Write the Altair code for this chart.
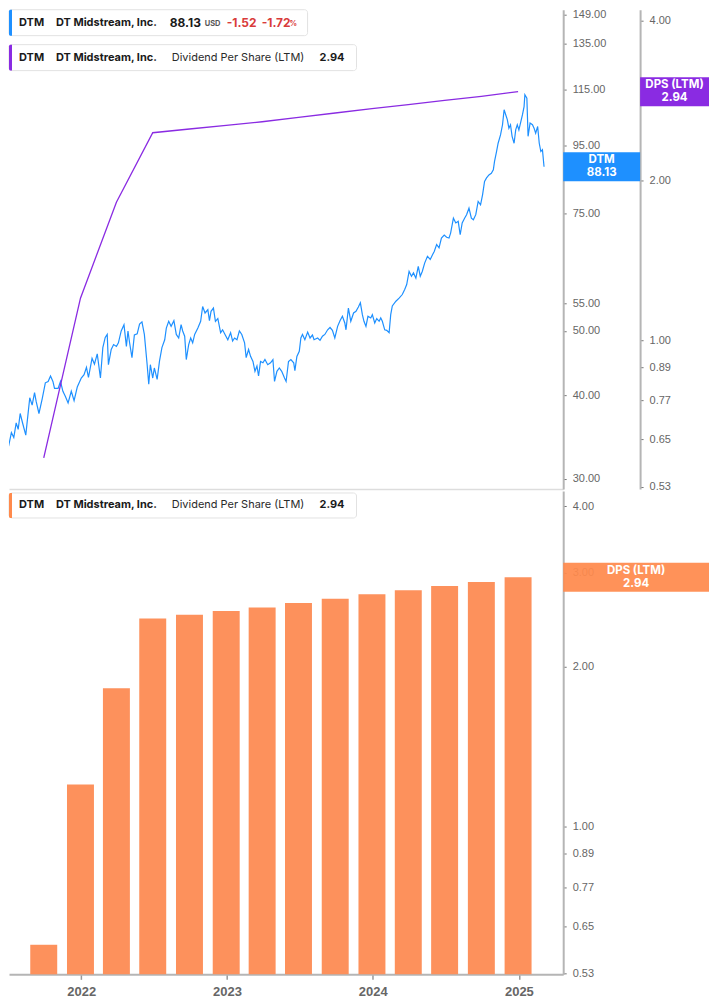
import altair as alt
import pandas as pd

# ---------------- data ----------------
price_dates = [
    "2021-06-15", "2021-06-19", "2021-06-25", "2021-06-29", "2021-07-03", "2021-07-10", "2021-07-16",
    "2021-07-22", "2021-07-27", "2021-08-01", "2021-08-08", "2021-08-15", "2021-08-25", "2021-08-31",
    "2021-09-06", "2021-09-10", "2021-09-17", "2021-09-25", "2021-10-03", "2021-10-10", "2021-10-16",
    "2021-10-22", "2021-10-26", "2021-11-04", "2021-11-10", "2021-11-16", "2021-11-22", "2021-11-29",
    "2021-12-07", "2021-12-14", "2021-12-22", "2022-01-01", "2022-01-08", "2022-01-14", "2022-01-19",
    "2022-01-28", "2022-02-03", "2022-02-10", "2022-02-18", "2022-02-24", "2022-03-02", "2022-03-07",
    "2022-03-10", "2022-03-17", "2022-03-23", "2022-03-30", "2022-04-04", "2022-04-11", "2022-04-18",
    "2022-04-24", "2022-04-28", "2022-05-02", "2022-05-08", "2022-05-14", "2022-05-21", "2022-05-27",
    "2022-06-02", "2022-06-08", "2022-06-15", "2022-06-19", "2022-06-23", "2022-06-29", "2022-07-03",
    "2022-07-10", "2022-07-16", "2022-07-22", "2022-07-29", "2022-08-02", "2022-08-08", "2022-08-14",
    "2022-08-21", "2022-08-27", "2022-09-02", "2022-09-08", "2022-09-12", "2022-09-17", "2022-09-21",
    "2022-09-27", "2022-10-02", "2022-10-07", "2022-10-12", "2022-10-20", "2022-10-27", "2022-11-01",
    "2022-11-07", "2022-11-14", "2022-11-18", "2022-11-22", "2022-11-28", "2022-12-03", "2022-12-09",
    "2022-12-16", "2022-12-21", "2022-12-27", "2023-01-03", "2023-01-10", "2023-01-15", "2023-01-20",
    "2023-01-26", "2023-02-01", "2023-02-07", "2023-02-14", "2023-02-18", "2023-02-24", "2023-03-01",
    "2023-03-07", "2023-03-12", "2023-03-17", "2023-03-21", "2023-03-26", "2023-04-01", "2023-04-06",
    "2023-04-13", "2023-04-20", "2023-04-26", "2023-04-30", "2023-05-06", "2023-05-12", "2023-05-18",
    "2023-05-25", "2023-05-29", "2023-06-04", "2023-06-10", "2023-06-17", "2023-06-20", "2023-06-25",
    "2023-07-01", "2023-07-05", "2023-07-09", "2023-07-15", "2023-07-22", "2023-07-28", "2023-08-03",
    "2023-08-07", "2023-08-16", "2023-08-22", "2023-08-28", "2023-09-03", "2023-09-10", "2023-09-16",
    "2023-09-22", "2023-09-28", "2023-10-05", "2023-10-11", "2023-10-17", "2023-10-23", "2023-10-26",
    "2023-11-01", "2023-11-07", "2023-11-14", "2023-11-20", "2023-11-26", "2023-12-01", "2023-12-06",
    "2023-12-10", "2023-12-15", "2023-12-20", "2023-12-27", "2023-12-31", "2024-01-06", "2024-01-11",
    "2024-01-17", "2024-01-21", "2024-01-25", "2024-01-31", "2024-02-05", "2024-02-11", "2024-02-15",
    "2024-02-19", "2024-02-28", "2024-03-07", "2024-03-15", "2024-03-21", "2024-03-26", "2024-04-01",
    "2024-04-07", "2024-04-12", "2024-04-18", "2024-04-24", "2024-04-29", "2024-05-04", "2024-05-10",
    "2024-05-17", "2024-05-24", "2024-05-30", "2024-06-03", "2024-06-09", "2024-06-15", "2024-06-21",
    "2024-06-28", "2024-07-04", "2024-07-10", "2024-07-14", "2024-07-21", "2024-07-27", "2024-08-02",
    "2024-08-07", "2024-08-12", "2024-08-18", "2024-08-23", "2024-08-29", "2024-09-04", "2024-09-09",
    "2024-09-15", "2024-09-21", "2024-09-27", "2024-10-02", "2024-10-07", "2024-10-12", "2024-10-18",
    "2024-10-24", "2024-10-29", "2024-11-01", "2024-11-06", "2024-11-10", "2024-11-16", "2024-11-21",
    "2024-11-25", "2024-11-29", "2024-12-03", "2024-12-07", "2024-12-11", "2024-12-15", "2024-12-20",
    "2024-12-24", "2024-12-28", "2025-01-01", "2025-01-05", "2025-01-10", "2025-01-14", "2025-01-16",
    "2025-01-21", "2025-01-24", "2025-01-29", "2025-02-04", "2025-02-08", "2025-02-12", "2025-02-17",
    "2025-02-21", "2025-02-25", "2025-03-01", "2025-03-05",
]
price_values = [
    35.4, 35.2, 32.6, 36.8, 33.6, 35.2, 34.6,
    36.4, 35.6, 37.6, 36.2, 34.9, 39.7, 38.7,
    40.4, 39.2, 37.6, 39.5, 41.8, 42.0, 42.8,
    42.0, 41.0, 41.0, 42.0, 40.6, 39.9, 39.0,
    40.6, 39.3, 41.2, 42.5, 43.0, 44.1, 42.6,
    45.5, 44.6, 46.2, 42.5, 47.2, 48.9, 49.4,
    44.5, 46.9, 47.7, 47.4, 48.0, 50.0, 51.1,
    47.4, 50.0, 48.0, 45.6, 49.3, 49.5, 51.2,
    51.6, 49.4, 44.5, 41.6, 44.5, 42.5, 44.0,
    42.3, 45.1, 47.2, 48.5, 50.5, 51.7, 50.8,
    51.8, 49.4, 48.8, 51.1, 50.0, 49.1, 45.3,
    47.7, 48.8, 48.0, 49.4, 50.5, 51.7, 54.4,
    53.2, 53.8, 51.8, 53.5, 54.1, 51.7, 52.2,
    49.7, 50.2, 49.4, 48.5, 49.7, 48.3, 48.8,
    48.5, 50.0, 49.4, 48.0, 45.6, 46.9, 45.8,
    45.0, 43.5, 44.3, 42.8, 45.0, 44.8, 45.3,
    44.5, 44.8, 45.3, 42.0, 43.5, 44.0, 43.5,
    42.5, 42.0, 45.0, 45.3, 44.8, 43.6, 45.8,
    46.6, 48.8, 49.4, 48.5, 49.8, 48.8, 49.3,
    48.5, 48.8, 48.4, 49.1, 49.4, 50.2, 50.6,
    50.1, 48.8, 50.8, 51.8, 52.6, 51.4, 50.2,
    54.1, 51.7, 53.2, 53.5, 54.3, 55.1, 52.9,
    51.7, 50.8, 52.6, 52.3, 52.9, 51.4, 52.2,
    51.7, 52.3, 51.7, 50.2, 50.1, 49.7, 52.9,
    54.5, 55.4, 56.0, 56.7, 57.7, 58.7, 61.4,
    60.4, 61.1, 60.0, 62.5, 60.4, 61.4, 63.2,
    64.7, 64.0, 65.1, 65.8, 67.4, 66.6, 68.9,
    69.6, 69.1, 68.9, 70.1, 73.8, 72.6, 73.0,
    69.7, 72.6, 73.8, 74.7, 76.4, 73.8, 73.4,
    74.7, 78.2, 77.3, 80.0, 83.8, 84.8, 85.7,
    86.2, 87.2, 89.8, 92.9, 95.6, 98.4, 101.9,
    107.3, 105.5, 103.7, 100.7, 101.9, 97.9, 95.6,
    100.1, 101.9, 100.1, 102.5, 105.5, 108.5, 113.0,
    111.7, 97.9, 102.5, 101.9, 100.7, 99.0, 101.3,
    95.6, 92.9, 93.5, 88.13,
]

dps_dates = [
    "2021-09-29", "2021-12-30", "2022-03-30", "2022-06-29", "2022-09-29", "2022-12-30", "2023-03-30",
    "2023-06-29", "2023-09-29", "2023-12-30", "2024-03-30", "2024-06-29", "2024-09-29", "2024-12-30",
]
dps_values = [0.60, 1.20, 1.82, 2.46, 2.50, 2.54, 2.58, 2.63, 2.68, 2.73, 2.78, 2.83, 2.88, 2.94]

price_ticks = [30, 40, 50, 55, 75, 95, 115, 135, 149]
dps_ticks_top = [0.53, 0.65, 0.77, 0.89, 1.0, 2.0, 4.0]
dps_ticks_bottom = [0.53, 0.65, 0.77, 0.89, 1.0, 2.0, 3.0, 4.0]
year_ticks = [2022, 2023, 2024, 2025]

ticker = "DTM"
company = "DT Midstream, Inc."
metric = "Dividend Per Share (LTM)"
last_price = 88.13
price_change = "-1.52"
pct_change = "-1.72"
last_dps = 2.94

# ---------------- layout / style ----------------
W = 555
H_TOP = 480
H_BOT = 484
BLUE = "#1E90FF"
PURPLE = "#8A2BE2"
ORANGE_BAR = "#FD915C"
ORANGE_BOX = "#FF8A4C"
AXIS_GREY = "#b5b5b5"
LABEL_GREY = "#666666"
TEXT_FONT = "Inter"
AXIS_FONT = "Liberation Sans"

price_df = pd.DataFrame({"date": price_dates, "price": price_values})
dps_df = pd.DataFrame({"date": dps_dates, "dps": dps_values})

x_scale = alt.Scale(
    type="utc", padding=0,
    domain=[alt.DateTime(year=2021, month=7, date=4, utc=True),
            alt.DateTime(year=2025, month=4, date=22, utc=True)],
)
price_scale = alt.Scale(type="log", domain=[28.97, 151.6], nice=False, padding=0)
dps_scale_top = alt.Scale(type="log", domain=[0.5244, 4.195], nice=False, padding=0)
dps_scale_bot = alt.Scale(type="log", domain=[0.528, 4.268], nice=False, padding=0)


def y_axis(values, offset=0):
    return alt.Axis(
        orient="right", values=values, format=".2f", title=None, grid=False, offset=offset,
        domainColor=AXIS_GREY, domainWidth=2, tickColor="#777", tickSize=3, tickWidth=1,
        labelColor=LABEL_GREY, labelFontSize=11, labelFont=AXIS_FONT, labelPadding=6,
    )


price_axis = y_axis(price_ticks)
dps_axis_top = y_axis(dps_ticks_top, offset=77)
dps_axis_bot = y_axis(dps_ticks_bottom)

top_x_axis = alt.Axis(labels=False, ticks=False, title=None, grid=False,
                      domainColor="#dddddd", domainWidth=1.5)
bot_x_axis = alt.Axis(
    values=[alt.DateTime(year=y, month=1, date=1, utc=True) for y in year_ticks],
    format="%Y", title=None, grid=False,
    domainColor=AXIS_GREY, domainWidth=2, tickColor="#999", tickSize=5, tickWidth=1.5,
    labelColor=LABEL_GREY, labelFontSize=13, labelFont=AXIS_FONT, labelFontWeight="bold",
    labelPadding=6,
)


def one_row():
    return pd.DataFrame({"k": [0]})


def box(x0, x1, y0, y1, fill="white", stroke="#e2e2e2", radius=3):
    return alt.Chart(one_row()).mark_rect(
        fill=fill, stroke=stroke, strokeWidth=1, cornerRadius=radius
    ).encode(x=alt.value(x0), x2=alt.value(x1), y=alt.value(y0), y2=alt.value(y1))


def side_bar(y0, y1, color):
    return alt.Chart(one_row()).mark_rect(
        fill=color, cornerRadiusTopLeft=3, cornerRadiusBottomLeft=3
    ).encode(x=alt.value(0), x2=alt.value(3), y=alt.value(y0), y2=alt.value(y1))


def label(txt, x, y, size=11, weight="bold", color="#1a1a1a"):
    return alt.Chart(one_row()).mark_text(
        align="left", baseline="middle", font=TEXT_FONT, fontSize=size,
        fontWeight=weight, color=color, text=txt
    ).encode(x=alt.value(x), y=alt.value(y))


def legend_rows(y0, y1, color, value_txt):
    yc = (y0 + y1) / 2
    return [
        box(0, 348, y0, y1), side_bar(y0, y1, color),
        label(ticker, 10, yc), label(company, 47, yc),
        label(metric, 163, yc, weight="normal", color="#2a2a2a"),
        label(value_txt, 311, yc),
    ]


def badge(df, scale, axis, xc, width, color, opacity=1.0):
    rect = alt.Chart(df).mark_tick(
        orient="horizontal", thickness=29, size=width, color=color, opacity=opacity
    ).encode(x=alt.value(xc), y=alt.Y("v:Q", scale=scale, axis=axis))
    txt = alt.Chart(df).mark_text(
        color="white", font=TEXT_FONT, fontWeight="bold", fontSize=11.5, lineBreak="\n",
        lineHeight=13, align="center", baseline="middle", dy=-6.5
    ).encode(x=alt.value(xc), y=alt.Y("v:Q", scale=scale, axis=axis), text="t:N")
    return [rect, txt]


# ---------------- top panel ----------------
price_line = alt.Chart(price_df).mark_line(color=BLUE, strokeWidth=1.2, clip=True).encode(
    x=alt.X("date:T", scale=x_scale, axis=top_x_axis),
    y=alt.Y("price:Q", scale=price_scale, axis=price_axis),
)
badge_df = pd.DataFrame({"v": [last_price], "t": [f"{ticker}\n{last_price:.2f}"]})
price_group = alt.layer(price_line, *badge(badge_df, price_scale, price_axis, 593.5, 77, BLUE))

dps_line = alt.Chart(dps_df).mark_line(color=PURPLE, strokeWidth=1.3).encode(
    x=alt.X("date:T", scale=x_scale, axis=top_x_axis),
    y=alt.Y("dps:Q", scale=dps_scale_top, axis=dps_axis_top),
)
dps_badge_df = pd.DataFrame({"v": [last_dps], "t": [f"DPS (LTM)\n{last_dps:.2f}"]})
dps_group = alt.layer(dps_line, *badge(dps_badge_df, dps_scale_top, dps_axis_top, 666.5, 69, PURPLE))

legend1 = [
    box(0, 299, 0, 26), side_bar(0, 26, BLUE),
    label(ticker, 10, 13), label(company, 47, 13),
    label(f"{last_price:.2f}", 161, 13, size=12),
    label("USD", 196, 14.5, size=7.5, color="#555"),
    label(price_change, 218, 13, size=12, color="#D93B3B"),
    label(pct_change, 253, 13, size=12, color="#D93B3B"),
    label("%", 281, 14.5, size=7.5, color="#D93B3B"),
]
legend2 = legend_rows(35, 61, PURPLE, f"{last_dps:.2f}")

top = alt.layer(price_group, dps_group, *legend1, *legend2).resolve_scale(
    y="independent"
).properties(width=W, height=H_TOP)

# ---------------- bottom panel ----------------
bars = alt.Chart(dps_df).mark_bar(size=27, color=ORANGE_BAR).encode(
    x=alt.X("date:T", scale=x_scale, axis=bot_x_axis),
    y=alt.Y("dps:Q", scale=dps_scale_bot, axis=dps_axis_bot),
    y2=alt.datum(0.528),
)
bot_badge_df = pd.DataFrame({"v": [last_dps], "t": [f"DPS (LTM)\n{last_dps:.2f}"]})
legend3 = legend_rows(2, 27, ORANGE_BOX, f"{last_dps:.2f}")

bottom = alt.layer(
    bars, *badge(bot_badge_df, dps_scale_bot, dps_axis_bot, 628, 146, ORANGE_BOX, 0.93), *legend3
).properties(width=W, height=H_BOT)

chart = alt.vconcat(top, bottom, spacing=2, bounds="flush").properties(
    padding=0
).configure_view(stroke=None)

chart.save("out.html", embed_options={"renderer": "svg", "actions": False})
